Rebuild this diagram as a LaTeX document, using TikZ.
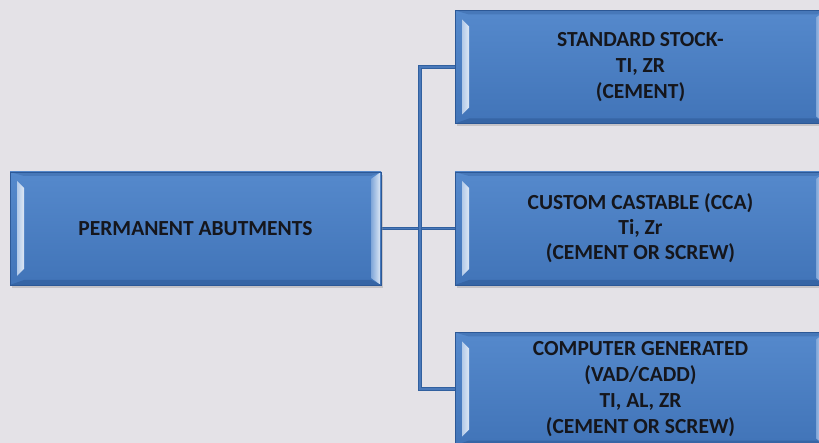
\documentclass[tikz,border=0pt]{standalone}
\usepackage{fontspec}
\setmainfont{Carlito}
\usetikzlibrary{calc}

\definecolor{bg}{HTML}{E4E2E7}
\definecolor{boxtop}{HTML}{5589CC}
\definecolor{boxbot}{HTML}{4174B8}
\definecolor{boxedge}{HTML}{2C5896}
\definecolor{linedark}{HTML}{31609F}
\definecolor{linelight}{HTML}{4A79BA}
\definecolor{ink}{HTML}{15161C}

\pgfdeclarelayer{back}
\pgfdeclarelayer{mid}
\pgfsetlayers{back,mid,main}

\tikzset{
  bevelbox/.style={
    rectangle, minimum width=371pt, minimum height=113pt, inner sep=0pt,
    draw=boxedge, line width=0.8pt, top color=boxtop, bottom color=boxbot,
    align=center, text=ink,
    font=\bfseries\fontsize{21.5}{26}\selectfont,
    preaction={draw=none, fill=black!45, fill opacity=0.35,
      transform canvas={xshift=2pt, yshift=-3pt}},
    path picture={
      \path (path picture bounding box.north west) coordinate (nw)
            (path picture bounding box.north east) coordinate (ne)
            (path picture bounding box.south west) coordinate (sw)
            (path picture bounding box.south east) coordinate (se);
      % top and bottom faces of the bevel
      \fill[boxedge!35!boxtop] (nw) -- (ne) -- ([shift={(-10pt,-4pt)}]ne)
        -- ([shift={(14pt,-4pt)}]nw) -- cycle;
      \fill[boxedge!55!boxbot] (sw) -- (se) -- ([shift={(-10pt,5pt)}]se)
        -- ([shift={(14pt,5pt)}]sw) -- cycle;
      % left face highlight
      \shade[left color=boxtop!45!white, right color=white!80!boxtop]
        ([shift={(7pt,-9pt)}]nw) -- ([shift={(14pt,-16pt)}]nw)
        -- ([shift={(14pt,16pt)}]sw) -- ([shift={(7pt,9pt)}]sw) -- cycle;
      % right face highlight
      \shade[left color=boxtop!75!white, right color=white!75!boxtop]
        ([shift={(-10pt,-7pt)}]ne) -- ([shift={(-1.5pt,-1pt)}]ne)
        -- ([shift={(-1.5pt,1pt)}]se) -- ([shift={(-10pt,7pt)}]se) -- cycle;
    }
  },
  conn/.style={draw=linedark, double=linelight, double distance=1.4pt,
    line width=1.1pt}
}

\begin{document}
\begin{tikzpicture}[x=1pt, y=-1pt]
  \begin{pgfonlayer}{back}
    \fill[bg] (0,0) rectangle (819,443);
  \end{pgfonlayer}
  \useasboundingbox (0,0) rectangle (819,443);

  \node[bevelbox] (perm) at (195.5,228.5) {PERMANENT ABUTMENTS};
  \node[bevelbox] (std) at (640.5,67)
    {STANDARD STOCK-\\TI, ZR\\(CEMENT)};
  \node[bevelbox, font=\bfseries\fontsize{21.5}{25}\selectfont] (cca) at (640.5,228.5)
    {CUSTOM CASTABLE (CCA)\\Ti, Zr\\(CEMENT OR SCREW)};
  \node[bevelbox, text depth=4pt] (cad) at (640.5,389)
    {COMPUTER GENERATED\\(VAD/CADD)\\TI, AL, ZR\\(CEMENT OR SCREW)};

  \coordinate (hub) at (420,228.5);

  \begin{pgfonlayer}{mid}
    \draw[conn] (perm.east) -- (cca.west);
    \draw[conn] (std.west) -| (hub) |- (cad.west);
  \end{pgfonlayer}
\end{tikzpicture}
\end{document}
